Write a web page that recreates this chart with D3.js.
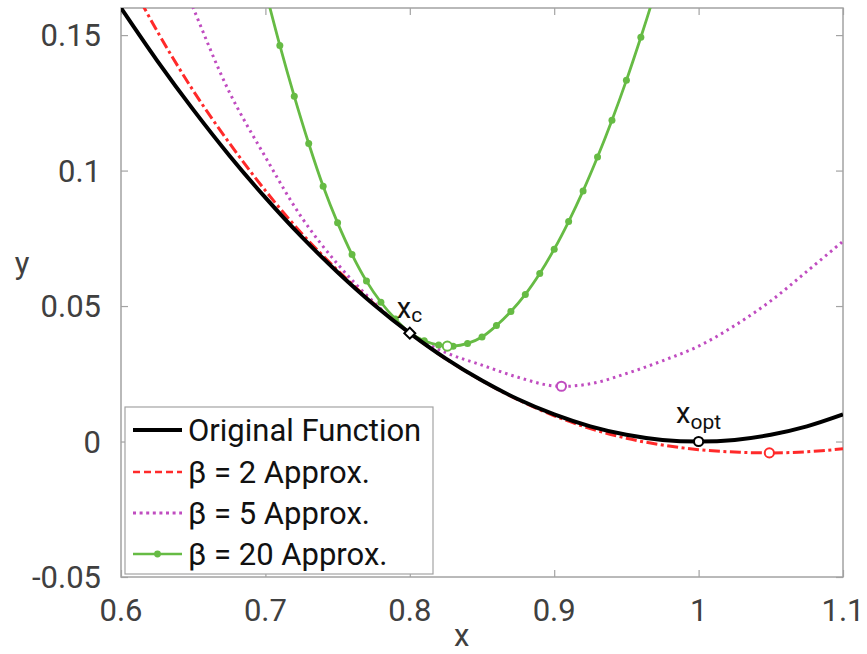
<!DOCTYPE html>
<html>
<head>
<meta charset="utf-8">
<script src="https://cdn.jsdelivr.net/npm/d3@7"></script>
<style>
  body { margin: 0; background: #fff; }
  svg text { font-family: Roboto, "Open Sans", sans-serif; }
</style>
</head>
<body>
<svg id="chart" width="867" height="654"></svg>
<script>
// x grid shared by the smooth curves
const xGrid = [0.6, 0.625, 0.65, 0.675, 0.7, 0.725, 0.75, 0.775, 0.8, 0.825, 0.85,
               0.875, 0.9, 0.925, 0.95, 0.975, 1.0, 1.025, 1.05, 1.075, 1.1];
const yOriginal = [0.16, 0.1406, 0.1225, 0.1056, 0.09, 0.0756, 0.0625, 0.0506, 0.04, 0.0306, 0.0225,
                   0.0156, 0.01, 0.0056, 0.0025, 0.0006, 0, 0.0006, 0.0025, 0.0056, 0.01];
const yBeta2 = [0.176, 0.1515, 0.1295, 0.1102, 0.0926, 0.0769, 0.0632, 0.0509, 0.04, 0.0305, 0.0224,
                0.0154, 0.0095, 0.0048, 0.0012, -0.0013, -0.003, -0.0039, -0.0042, -0.0038, -0.0027];
const yBeta5 = [0.23, 0.193, 0.16, 0.129, 0.105, 0.0828, 0.0655, 0.0515, 0.04, 0.0328, 0.0282,
                0.0237, 0.0205, 0.0213, 0.0251, 0.0298, 0.0352, 0.0428, 0.0519, 0.0628, 0.0739];

// beta = 20 has a marker at every point
const xBeta20 = [0.70, 0.71, 0.72, 0.73, 0.74, 0.75, 0.76, 0.77, 0.78, 0.79, 0.80, 0.81, 0.82, 0.83,
                 0.84, 0.85, 0.86, 0.87, 0.88, 0.89, 0.90, 0.91, 0.92, 0.93, 0.94, 0.95, 0.96, 0.97];
const yBeta20 = [0.1665, 0.1462, 0.1274, 0.1100, 0.0942, 0.0807, 0.0690, 0.0592, 0.0514, 0.0452, 0.0402,
                 0.0372, 0.0356, 0.0352, 0.0362, 0.0386, 0.0428, 0.0480, 0.0543, 0.0620, 0.0710, 0.0812,
                 0.0925, 0.1050, 0.1186, 0.1333, 0.1492, 0.1660];

// minima of each curve (open circles) and the point x_c
const minX = [1.0, 1.049, 0.905, 0.826];
const minY = [0, -0.0042, 0.0204, 0.0352];
const minColor = ["#000000", "#ff2a2a", "#c04cc0", "#66bb44"];
const xcPoint = [0.8, 0.04];

const xTicks = [0.6, 0.7, 0.8, 0.9, 1, 1.1];
const yTicks = [-0.05, 0, 0.05, 0.1, 0.15];
const yTickLabels = ["-0.05", "0", "0.05", "0.1", "0.15"];

const legendLabels = ["Original Function", "\u03B2 = 2 Approx.", "\u03B2 = 5 Approx.", "\u03B2 = 20 Approx."];

const margin = {top: 8, right: 24, bottom: 77, left: 121};
const width = 867 - margin.left - margin.right;
const height = 654 - margin.top - margin.bottom;

const svg = d3.select("#chart");
const g = svg.append("g").attr("transform", `translate(${margin.left},${margin.top})`);

const x = d3.scaleLinear().domain([0.6, 1.1]).range([0, width]);
const y = d3.scaleLinear().domain([-0.05, 0.16]).range([height, 0]);

svg.append("defs").append("clipPath").attr("id", "plotClip")
    .append("rect").attr("width", width).attr("height", height);

// axes box with inward ticks
const axisColor = "#a3a3a3";
const tickLen = 7;
function styleAxis(sel) {
    sel.select(".domain").remove();
    sel.selectAll(".tick line").attr("stroke", axisColor).attr("stroke-width", 1.2);
    sel.selectAll(".tick text").remove();
}
g.append("g").attr("transform", `translate(0,${height})`)
    .call(d3.axisBottom(x).tickValues(xTicks).tickSizeInner(-tickLen).tickSizeOuter(0)).call(styleAxis);
g.append("g")
    .call(d3.axisTop(x).tickValues(xTicks).tickSizeInner(-tickLen).tickSizeOuter(0)).call(styleAxis);
g.append("g")
    .call(d3.axisLeft(y).tickValues(yTicks).tickSizeInner(-tickLen).tickSizeOuter(0)).call(styleAxis);
g.append("g").attr("transform", `translate(${width},0)`)
    .call(d3.axisRight(y).tickValues(yTicks).tickSizeInner(-tickLen).tickSizeOuter(0)).call(styleAxis);
g.append("rect").attr("width", width).attr("height", height)
    .attr("fill", "none").attr("stroke", axisColor).attr("stroke-width", 1.5);

// tick labels
g.selectAll(".xlab").data(xTicks).join("text")
    .attr("x", d => x(d)).attr("y", height + 44)
    .attr("text-anchor", "middle").attr("font-size", 31).attr("fill", "#404040")
    .text(d => String(d));
g.selectAll(".ylab").data(yTicks).join("text")
    .attr("x", -20).attr("y", d => y(d)).attr("dy", "0.36em")
    .attr("text-anchor", "end").attr("font-size", 31).attr("fill", "#404040")
    .text((d, i) => yTickLabels[i]);
g.append("text").attr("x", x(0.836)).attr("y", height + 69)
    .attr("text-anchor", "middle").attr("font-size", 31).attr("fill", "#404040").text("x");
svg.append("text").attr("x", 22).attr("y", y(0.062) + margin.top)
    .attr("text-anchor", "middle").attr("font-size", 31).attr("fill", "#404040").text("y");

// curves
const plot = g.append("g").attr("clip-path", "url(#plotClip)");
const line = d3.line().x(d => x(d[0])).y(d => y(d[1])).curve(d3.curveCatmullRom.alpha(0.5));

plot.append("path").datum(d3.zip(xGrid, yBeta5)).attr("d", line)
    .attr("fill", "none").attr("stroke", minColor[2]).attr("stroke-width", 3)
    .attr("stroke-dasharray", "2.5,4");
plot.append("path").datum(d3.zip(xBeta20, yBeta20)).attr("d", line)
    .attr("fill", "none").attr("stroke", minColor[3]).attr("stroke-width", 2.8);
plot.selectAll(".b20").data(d3.zip(xBeta20, yBeta20)).join("circle")
    .attr("cx", d => x(d[0])).attr("cy", d => y(d[1])).attr("r", 3.5).attr("fill", minColor[3]);
plot.append("path").datum(d3.zip(xGrid, yBeta2)).attr("d", line)
    .attr("fill", "none").attr("stroke", minColor[1]).attr("stroke-width", 3)
    .attr("stroke-dasharray", "11,3.5,3,3.5");
plot.append("path").datum(d3.zip(xGrid, yOriginal)).attr("d", line)
    .attr("fill", "none").attr("stroke", "#000").attr("stroke-width", 4);

// minima markers
plot.selectAll(".mins").data(d3.range(minX.length)).join("circle")
    .attr("cx", i => x(minX[i])).attr("cy", i => y(minY[i])).attr("r", 4.6)
    .attr("fill", "#fff").attr("stroke", i => minColor[i]).attr("stroke-width", 2);

// x_c diamond
plot.append("path")
    .attr("d", d3.symbol(d3.symbolSquare, 60)())
    .attr("transform", `translate(${x(xcPoint[0])},${y(xcPoint[1])}) rotate(45)`)
    .attr("fill", "#fff").attr("stroke", "#000").attr("stroke-width", 2);

// annotations
const xcLab = g.append("text").attr("x", x(xcPoint[0]) - 13).attr("y", y(xcPoint[1]) - 15)
    .attr("font-size", 29).attr("fill", "#111");
xcLab.append("tspan").text("x");
xcLab.append("tspan").attr("font-size", 21).attr("dy", 4).text("c");
const optLab = g.append("text").attr("x", x(minX[0])).attr("y", y(minY[0]) - 19)
    .attr("text-anchor", "middle").attr("font-size", 29).attr("fill", "#111");
optLab.append("tspan").text("x");
optLab.append("tspan").attr("font-size", 21).attr("dy", 6).text("opt");

// legend
const leg = svg.append("g").attr("transform", "translate(125,407)");
leg.append("rect").attr("width", 308).attr("height", 167)
    .attr("fill", "#fff").attr("stroke", axisColor).attr("stroke-width", 1.2);
const rowY = [23, 65, 106, 147];
const legStyles = [
    {color: "#000", w: 4, dash: null},
    {color: minColor[1], w: 2.6, dash: "7,4"},
    {color: minColor[2], w: 3, dash: "3,3.6"},
    {color: minColor[3], w: 2.6, dash: null}
];
legendLabels.forEach((lab, i) => {
    const row = leg.append("g").attr("transform", `translate(0,${rowY[i]})`);
    row.append("line").attr("x1", 8).attr("x2", 57).attr("y1", 0).attr("y2", 0)
        .attr("stroke", legStyles[i].color).attr("stroke-width", legStyles[i].w)
        .attr("stroke-dasharray", legStyles[i].dash);
    if (i === 3) row.append("circle").attr("cx", 32.5).attr("cy", 0).attr("r", 3.4).attr("fill", minColor[3]);
    row.append("text").attr("x", 63).attr("y", 0).attr("dy", "0.36em")
        .attr("font-size", 31).attr("fill", "#111").text(lab);
});
</script>
</body>
</html>
